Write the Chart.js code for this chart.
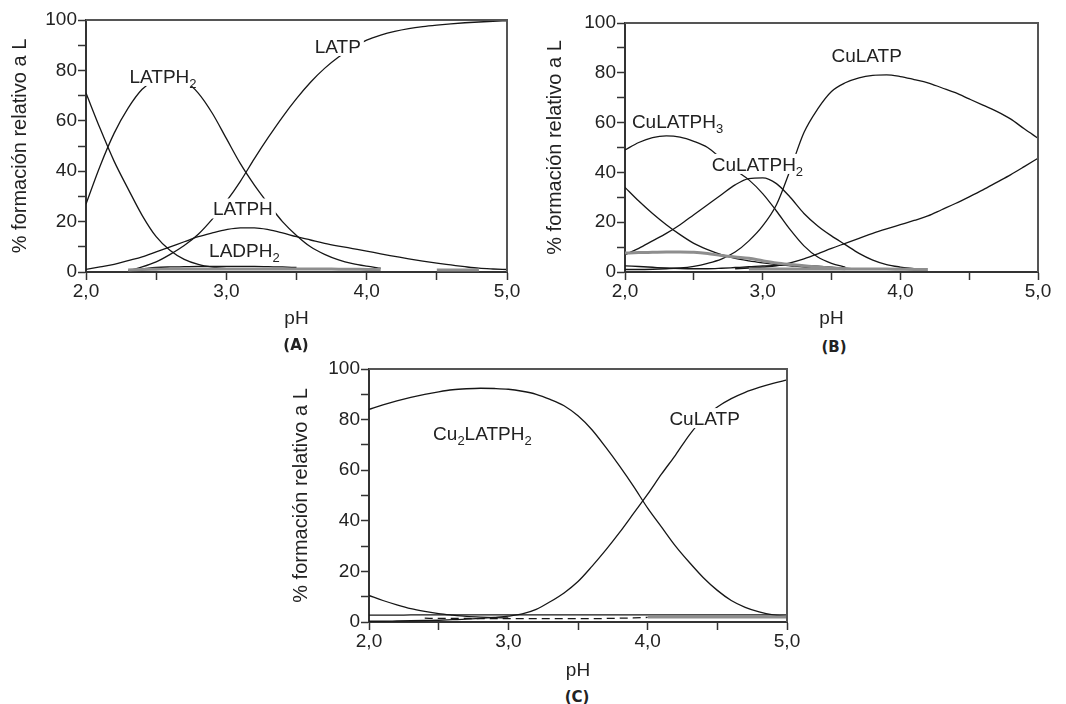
<!DOCTYPE html>
<html>
<head>
<meta charset="utf-8">
<script src="https://cdn.jsdelivr.net/npm/chart.js"></script>
<style>
  body { margin: 0; background: #fff; }
  #wrap { position: relative; width: 1066px; height: 704px; overflow: hidden; }
  canvas { position: absolute; }
  .tag { position: absolute; transform: translate(-50%, -50%); font: bold 15px "DejaVu Sans", sans-serif; color: #222; }
</style>
</head>
<body>
<div id="wrap">
  <canvas id="chart-a" width="530" height="330" style="left:0;top:0"></canvas>
  <canvas id="chart-b" width="536" height="330" style="left:530px;top:0"></canvas>
  <canvas id="chart-c" width="540" height="332" style="left:280px;top:350px"></canvas>
  <div class="tag" style="left:296px;top:345px">(A)</div>
  <div class="tag" style="left:834px;top:347px">(B)</div>
  <div class="tag" style="left:577px;top:697px">(C)</div>
</div>
<script>
// pH grid shared by all three panels
const PH = [2.0, 2.1, 2.2, 2.3, 2.4, 2.5, 2.6, 2.7, 2.8, 2.9, 3.0, 3.1, 3.2, 3.3, 3.4, 3.5,
            3.6, 3.7, 3.8, 3.9, 4.0, 4.1, 4.2, 4.3, 4.4, 4.5, 4.6, 4.7, 4.8, 4.9, 5.0]
const X_TICKS = [2, 3, 4, 5]
const Y_TICKS = [0, 20, 40, 60, 80, 100]

// (A) ligand alone
const A_LATPH3 = [71, 57, 44, 33, 22.5, 14, 8.5, 5, 3, 1.9, 1.3, null, null, null, null, null,
                  null, null, null, null, null, null, null, null, null, null, null, null, null, null, null]
const A_LATPH2 = [27, 42, 55, 65, 72.5, 76.5, 78, 76, 71, 63, 53, 43, 34.5, 27, 20, 14.5,
                  10, 7, 4.8, 3.3, 2.3, 1.5, null, null, null, null, null, null, null, null, null]
const A_LATPH  = [1, 2, 3, 4.5, 6, 8, 10, 12, 14, 15.5, 16.8, 17.5, 17.5, 16.8, 15.5, 14,
                  12.7, 11.4, 10.3, 9.3, 8.3, 7.2, 6.2, 5.2, 4.3, 3.5, 2.8, 2.1, 1.5, 1.2, 1]
const A_LATP   = [null, null, null, 0.5, 2, 4, 7, 10.5, 15, 21, 28, 36, 45, 53.5, 61.5, 68.8,
                  75.3, 80.8, 85.3, 89, 92, 94, 95.5, 96.6, 97.4, 98, 98.5, 98.9, 99.2, 99.5, 99.7]
const A_LADPH2 = [null, null, null, null, 1.3, 1.8, 2, 2.1, 2.2, 2.2, 2.2, 2.2, 2.2, 2.1, 2, 1.8,
                  null, null, null, null, null, null, null, null, null, null, null, null, null, null, null]
const A_MINOR  = [null, null, null, 0.8, 1, 1.1, 1.2, 1.2, 1.2, 1.2, 1.2, 1.2, 1.2, 1.2, 1.2, 1.2,
                  1.2, 1.2, 1.1, 1.1, 1, 1, null, null, null, 0.8, 0.8, 0.8, 0.8, null, null]

// (B) Cu : L
const B_CULATPH3 = [49, 52, 54, 54.7, 54.2, 52.5, 50, 45.5, 41, 37, 31.5, 24.5, 17, 10.5, 6, 3.5,
                    2, null, null, null, null, null, null, null, null, null, null, null, null, null, null]
const B_LATPH4   = [34, 28.5, 23.5, 19, 15, 11.5, 9, 7, 5.5, 4.5, 3.7, 3, 2.5, 2, 1.7, 1.5,
                    null, null, null, null, null, null, null, null, null, null, null, null, null, null, null]
const B_CULATPH2 = [7, 9.5, 12.5, 15.5, 19, 23, 27, 31, 35, 37.5, 37.8, 35.5, 30, 23.5, 18.5, 14.5,
                    11, 7.5, 4.8, 3, 2, 1.3, null, null, null, null, null, null, null, null, null]
const B_CULATP   = [1, 1, 1.1, 1.3, 1.6, 2.3, 3.5, 5.2, 8, 12.5, 18.5, 27, 41, 56, 65.5, 72.5,
                    76, 78, 79, 79.2, 78.5, 77.3, 76, 74, 72, 69.5, 67, 64.5, 61.5, 57.5, 53.7]
const B_CULATPOH = [null, null, null, null, null, null, null, null, 1.3, 1.6, 2, 2.5, 3.7, 5.3, 7.3, 9.5,
                    11.5, 13.5, 15.5, 17.3, 19, 20.7, 22.5, 25, 27.5, 30.2, 33, 36, 39, 42.3, 45.7]
const B_GREY1    = [7.6, 7.8, 7.9, 8, 8, 7.9, 7.4, 6.6, 6, 5.5, 4.5, 3.6, 3, 2.5, 2, 1.6,
                    1.3, null, null, null, null, null, null, null, null, null, null, null, null, null, null]
const B_GREY2    = [null, null, null, null, null, null, null, null, null, 1.2, 1.2, 1.2, 1.2, 1.2, 1.2, 1.2,
                    1.2, 1.2, 1.2, 1.2, 1.1, 1, 1, null, null, null, null, null, null, null, null]
const B_MINOR    = [2.5, 2.2, 1.9, 1.6, 1.4, 1.3, 1.3, 1.5, 1.8, 2.1, 2.5, 2.7, 2.8, 2.6, 2.3, 1.9,
                    1.5, 1.2, null, null, null, null, null, null, null, null, null, null, null, null, null]

// (C) Cu2 : L
const C_CU2LATPH2 = [84, 85.8, 87.4, 88.8, 90, 91, 91.8, 92.2, 92.4, 92.3, 92, 91.2, 90, 88, 85.5, 81.5,
                     76, 69, 61.5, 53.5, 45, 37.5, 30, 23.5, 17.5, 12.5, 8.5, 5.8, 4, 2.8, 2.2]
const C_CULATP    = [0.3, 0.3, 0.4, 0.5, 0.6, 0.7, 0.9, 1.1, 1.4, 1.8, 2.3, 3.2, 5, 8, 11.5, 16,
                     22, 28.5, 35.5, 43, 50.5, 58.5, 66, 74, 80.5, 85, 88.3, 90.8, 92.7, 94.3, 95.7]
const C_DEC       = [10.5, 8.5, 6.8, 5.3, 4.2, 3.3, 2.7, 2.2, 1.9, 1.7, 1.6, null, null, null, null, null,
                     null, null, null, null, null, null, null, null, null, null, null, null, null, null, null]
const C_FLAT      = [2.7, 2.7, 2.7, 2.8, 2.8, 2.8, 2.8, 2.8, 2.8, 2.8, 2.8, 2.8, 2.8, 2.8, 2.8, 2.8,
                     2.8, 2.8, 2.8, 2.8, 2.8, 2.8, 2.8, 2.8, 2.8, 2.8, 2.8, 2.8, 2.8, 2.8, 2.8]
const C_DASH      = [null, null, null, null, 1.5, 1.4, 1.4, 1.4, 1.3, 1.3, 1.3, 1.3, 1.3, 1.3, 1.3, 1.3,
                     1.3, 1.4, 1.5, 1.6, 1.8, null, null, null, null, null, null, null, null, null, null]
const C_GREY      = [null, null, null, null, null, null, null, null, null, null, null, null, null, null, null, null,
                     null, null, null, null, 2, 2, 2, 2, 2, 2, 2, 2, 2, 2, 2]

// curve labels, "_" marks a subscript character; x = pH, y = % at the label's left/middle
const LABELS_A = [
  { text: 'LATPH_2', x: 2.31, y: 77.8 },
  { text: 'LATP',    x: 3.63, y: 89.7 },
  { text: 'LATPH',   x: 2.905, y: 25.2 },
  { text: 'LADPH_2', x: 2.877, y: 8.9 }
]
const LABELS_B = [
  { text: 'CuLATPH_3', x: 2.05, y: 60.6 },
  { text: 'CuLATPH_2', x: 2.63, y: 43.4 },
  { text: 'CuLATP',    x: 3.50, y: 87.1 }
]
const LABELS_C = [
  { text: 'Cu_2LATPH_2', x: 2.46, y: 74.9 },
  { text: 'CuLATP',      x: 4.156, y: 80.6 }
]

const FONT   = '"Liberation Sans", Arial, sans-serif'
const INK    = '#161616'
const GREY   = '#8e8e8e'
const TEXT   = '#222'
Chart.defaults.font.family = FONT

const pts = vals => PH.map((p, i) => ({ x: p, y: vals[i] }))
const ink  = (vals, dash) => ({ data: pts(vals), borderColor: INK, borderWidth: 1.3, borderDash: dash || [] })
const grey = vals => ({ data: pts(vals), borderColor: GREY, borderWidth: 3 })

function splitSub(str) {
  const out = []
  for (let i = 0; i < str.length; i++) {
    if (str[i] === '_') { out.push({ t: str[i + 1], sub: true }); i++; continue }
    const last = out[out.length - 1]
    if (last && !last.sub) last.t += str[i]
    else out.push({ t: str[i], sub: false })
  }
  return out
}

// top/right frame + curve labels with a white knock-out behind them
const annotate = {
  id: 'annotate',
  afterDatasetsDraw(chart, args, opts) {
    const { ctx, chartArea: a, scales } = chart
    ctx.save()
    ctx.strokeStyle = '#555'
    ctx.lineWidth = 2
    ctx.beginPath()
    ctx.moveTo(a.left, a.top)
    ctx.lineTo(a.right, a.top)
    ctx.lineTo(a.right, a.bottom)
    ctx.stroke()

    for (const lab of opts.labels || []) {
      const parts = splitSub(lab.text)
      const x0 = scales.x.getPixelForValue(lab.x)
      const cy = scales.y.getPixelForValue(lab.y)
      let w = 0
      parts.forEach(p => {
        ctx.font = p.sub ? `13px ${FONT}` : `19px ${FONT}`
        p.w = ctx.measureText(p.t).width
        w += p.w
      })
      ctx.fillStyle = '#fff'
      ctx.fillRect(x0 - 3, cy - 10, w + 6, 20)
      ctx.fillStyle = TEXT
      ctx.textBaseline = 'alphabetic'
      let x = x0
      parts.forEach(p => {
        ctx.font = p.sub ? `13px ${FONT}` : `19px ${FONT}`
        ctx.fillText(p.t, x, p.sub ? cy + 12 : cy + 7)
        x += p.w
      })
    }
    ctx.restore()
  }
}

// box: canvas position/size and wanted plot area, all in page pixels
function makeChart(id, box, datasets, labels) {
  const xh = box.T + box.H - box.b
  return new Chart(document.getElementById(id), {
    type: 'line',
    data: { datasets },
    plugins: [annotate],
    options: {
      responsive: false,
      animation: false,
      elements: { point: { radius: 0 }, line: { cubicInterpolationMode: 'monotone', fill: false } },
      layout: { padding: { left: 0, top: box.t - box.T, right: box.L + box.W - box.r, bottom: 0 } },
      plugins: { legend: { display: false }, tooltip: { enabled: false }, annotate: { labels } },
      scales: {
        x: {
          type: 'linear', min: 2, max: 5,
          ticks: {
            stepSize: 0.5, autoSkip: false, maxRotation: 0, padding: 0,
            color: TEXT, font: { size: 19 },
            callback: v => X_TICKS.includes(v) ? v.toFixed(1).replace('.', ',') : ''
          },
          grid: { drawOnChartArea: false, tickLength: 8, color: '#333', tickWidth: 1.5 },
          border: { color: '#333', width: 2 },
          title: { display: true, text: 'pH', color: TEXT, font: { size: 19 }, padding: { top: 0, bottom: 0 } },
          afterFit: s => { s.height = xh }
        },
        y: {
          min: 0, max: 100,
          ticks: {
            stepSize: 10, autoSkip: false, padding: 1,
            color: TEXT, font: { size: 19 },
            callback: v => Y_TICKS.includes(v) ? v : ''
          },
          grid: { drawOnChartArea: false, tickLength: 8, color: '#333', tickWidth: 1.5 },
          border: { color: '#333', width: 2 },
          title: {
            display: true, text: '% formación relativo a L', color: TEXT,
            font: { size: 20 }, padding: { top: box.yt - box.L - 12, bottom: 0 }
          },
          afterFit: s => { s.width = box.l - box.L }
        }
      }
    }
  })
}

makeChart('chart-a',
  { L: 0, T: 0, W: 530, H: 330, l: 86, t: 20, r: 507, b: 272, yt: 20 },
  [grey(A_MINOR), ink(A_LADPH2), ink(A_LATPH3), ink(A_LATPH2), ink(A_LATPH), ink(A_LATP)],
  LABELS_A)

makeChart('chart-b',
  { L: 530, T: 0, W: 536, H: 330, l: 625, t: 23, r: 1038, b: 272, yt: 555 },
  [grey(B_GREY1), grey(B_GREY2), ink(B_MINOR), ink(B_LATPH4), ink(B_CULATPH3),
   ink(B_CULATPH2), ink(B_CULATP), ink(B_CULATPOH)],
  LABELS_B)

makeChart('chart-c',
  { L: 280, T: 350, W: 540, H: 332, l: 369, t: 369, r: 787, b: 622, yt: 301 },
  [grey(C_GREY), ink(C_DASH, [8, 5]), ink(C_FLAT), ink(C_DEC), ink(C_CU2LATPH2), ink(C_CULATP)],
  LABELS_C)
</script>
</body>
</html>
